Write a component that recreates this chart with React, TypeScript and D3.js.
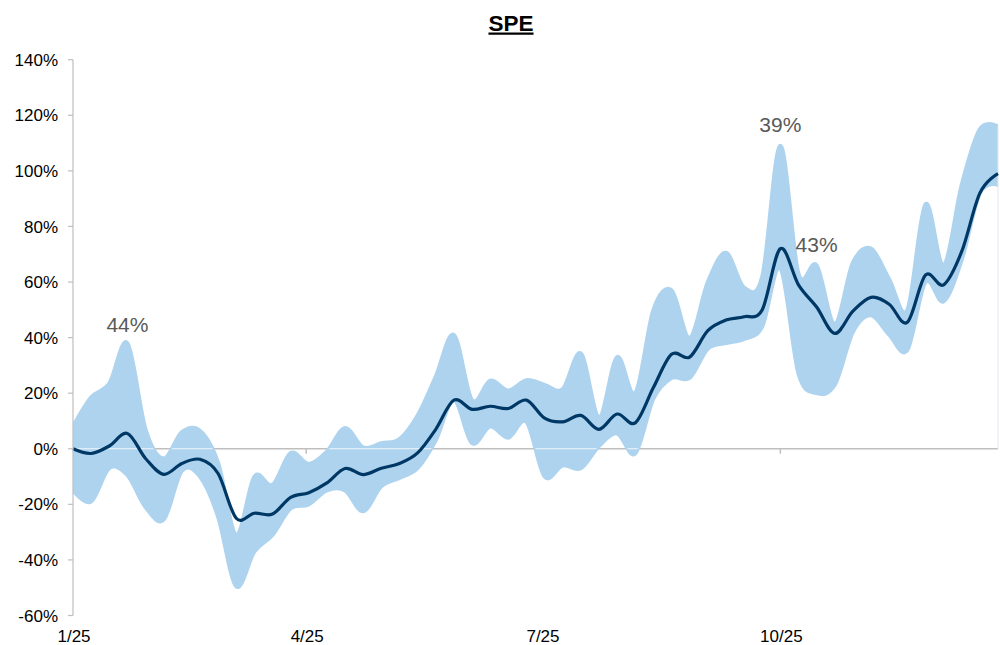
import React from "react";
import * as d3 from "d3";

// ---- data (percent values, weekly observations starting 1 Jan 2025) ----
const startDate = new Date(2025, 0, 1);
const weekCount = 52;
const weeks: Date[] = d3.range(weekCount).map((i) => d3.timeDay.offset(startDate, 7 * i));

const meanValues = [
  0, -1.7, 1.0, 5.5, -3.5, -9.2, -5.3, -3.8, -8.9, -25,
  -23.2, -23.5, -17.5, -15.8, -12.3, -7.1, -9.3, -7, -5.3, -1.5,
  7, 17.5, 14.2, 15.3, 14.5, 17.5, 11, 9.7, 12, 7,
  12.5, 9.3, 22, 34, 33, 42.5, 46.3, 47.5, 50, 72,
  59, 51, 41.5, 49.5, 54.5, 52, 45.5, 62.5, 59, 71,
  92, 99,
];

const upperValues = [
  8, 18.5, 23.5, 38, 7, -3.5, 6, 6.5, -5, -31,
  -10, -13, -1.5, -5.5, -1, 7.5, 0.5, 2, 3.5, 12,
  26, 41, 17.5, 24.5, 21, 24.7, 23, 21.5, 34.3, 11.5,
  33, 20, 50, 57, 40, 60, 70.5, 58, 62, 109,
  63, 66, 45, 67, 72, 61, 50, 88, 66, 95,
  115, 116,
];

const lowerValues = [
  -15, -19, -7, -9.5, -21, -25.5, -8, -10, -24.5, -49.5,
  -37, -31, -21.5, -20, -15, -15, -22.5, -13.5, -10.5, -7,
  3, 17.5, 2, 8, 4, 9.7, -10, -6, -7, 1,
  5.5, -1.7, 18, 25.5, 25.5, 36, 38, 39.5, 44, 65,
  27, 20, 23, 42, 48, 41, 35.5, 60, 53, 68,
  92, 95,
];

const yTickValues = [-60, -40, -20, 0, 20, 40, 60, 80, 100, 120, 140];
const xTickDates = [new Date(2025, 0, 1), new Date(2025, 3, 1), new Date(2025, 6, 1), new Date(2025, 9, 1)];

const annotationLabels = ["44%", "39%", "43%"];
const annotationWeek = [3, 39, 41];
const annotationValue = [42.1, 114, 70.9];

const chartTitle = "SPE";

export default function App() {
  const W = 1000;
  const H = 645;
  const left = 73;
  const right = 998;
  const top = 59.7;
  const bottom = 615.5;

  const x = d3.scaleTime().domain([weeks[0], weeks[weeks.length - 1]]).range([left, right]);
  const y = d3.scaleLinear().domain([-60, 140]).range([bottom, top]);

  const idx = d3.range(weekCount);
  const curve = d3.curveCardinal.tension(0);

  const bandPath = d3
    .area<number>()
    .x((i) => x(weeks[i]))
    .y0((i) => y(lowerValues[i]))
    .y1((i) => y(upperValues[i]))
    .curve(curve)(idx) as string;

  const meanPath = d3
    .line<number>()
    .x((i) => x(weeks[i]))
    .y((i) => y(meanValues[i]))
    .curve(curve)(idx) as string;

  const fmt = d3.timeFormat("%-m/%y");
  const axisColor = "#bfbfbf";
  const bandColor = "#aed3ef";
  const font = "'Liberation Sans', Arial, Helvetica, sans-serif";
  const y0 = y(0);
  const lastX = x(weeks[weekCount - 1]);

  return (
    <svg
      width={W}
      height={H}
      style={{ position: "absolute", left: 0, top: 0, display: "block", background: "#fff" }}
      fontFamily={font}
    >
      <defs>
        <clipPath id="plotClip">
          <rect x={left} y={0} width={right - left} height={H} />
        </clipPath>
        <clipPath id="bandClip">
          <path d={bandPath} />
        </clipPath>
      </defs>

      {/* title */}
      <text
        x={511}
        y={30.5}
        textAnchor="middle"
        fontSize={22.5}
        fontWeight="bold"
        fill="#000"
        style={{ textDecoration: "underline" }}
      >
        {chartTitle}
      </text>

      {/* zero axis line (below band) */}
      <line x1={left} x2={right} y1={y0} y2={y0} stroke={axisColor} strokeWidth={1.5} />
      {xTickDates.slice(1).map((d, i) => (
        <line key={i} x1={x(d)} x2={x(d)} y1={y0} y2={y0 + 5} stroke={axisColor} strokeWidth={1.5} />
      ))}

      {/* band */}
      <g clipPath="url(#plotClip)">
        <path d={bandPath} fill={bandColor} stroke={bandColor} strokeWidth={4} strokeLinejoin="round" />
      </g>
      <line
        x1={left}
        x2={right}
        y1={y0}
        y2={y0}
        stroke="#ffffff"
        strokeOpacity={0.8}
        strokeWidth={1.2}
        clipPath="url(#bandClip)"
      />
      <line x1={lastX} x2={lastX} y1={y0} y2={y(upperValues[weekCount - 1])} stroke="#dfe8f0" strokeWidth={1} />

      {/* mean line */}
      <path d={meanPath} fill="none" stroke="#003865" strokeWidth={3.2} strokeLinejoin="round" />

      {/* y axis */}
      <line x1={left} x2={left} y1={top} y2={bottom} stroke={axisColor} strokeWidth={1.2} />
      {yTickValues.map((v) => (
        <g key={v}>
          <line x1={left - 5} x2={left} y1={y(v)} y2={y(v)} stroke={axisColor} strokeWidth={1.2} />
          <text x={58} y={y(v)} dy="0.36em" textAnchor="end" fontSize={17} fill="#000">
            {`${v}%`}
          </text>
        </g>
      ))}

      {/* x tick labels */}
      {xTickDates.map((d, i) => (
        <text key={i} x={x(d) + 1} y={642} textAnchor="middle" fontSize={17} fill="#000">
          {fmt(d)}
        </text>
      ))}

      {/* annotations */}
      {annotationLabels.map((t, i) => (
        <text
          key={t}
          x={x(weeks[annotationWeek[i]])}
          y={y(annotationValue[i])}
          textAnchor="middle"
          fontSize={21}
          fill="#595959"
        >
          {t}
        </text>
      ))}
    </svg>
  );
}
